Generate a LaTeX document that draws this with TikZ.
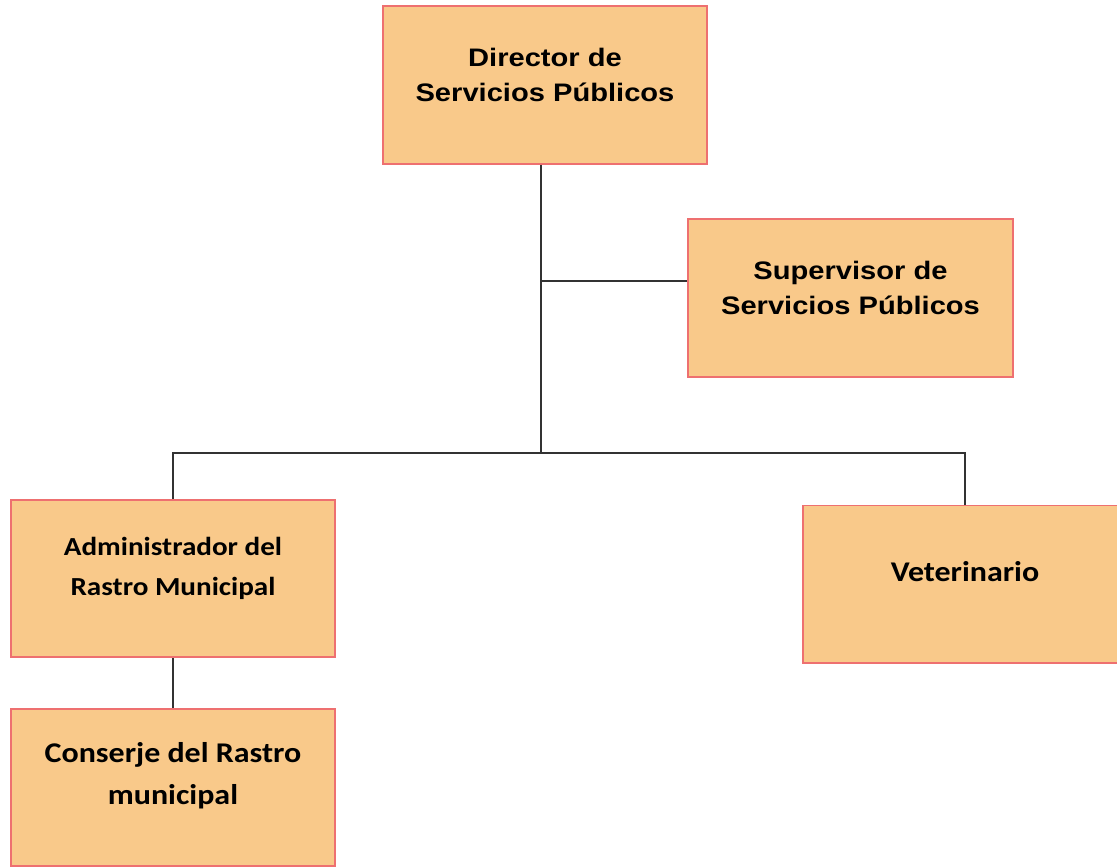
\documentclass[tikz,border=0pt]{standalone}
\usepackage{fontspec}
\usepackage{xcolor}
\usetikzlibrary{positioning}
\usetikzlibrary{calc}
\newfontfamily\arialfont[FakeStretch=1.15]{Liberation Sans}
\newfontfamily\calibrifont[FakeStretch=1.12]{Carlito}
\definecolor{boxfill}{RGB}{249,201,138}
\definecolor{boxline}{RGB}{238,112,112}
\definecolor{wire}{RGB}{50,50,50}

\begin{document}
\begin{tikzpicture}[x=0.025cm, y=-0.025cm, line width=1.1pt]
    \tikzstyle{post}=[draw=boxline, line width=1.4pt, fill=boxfill, rectangle, minimum width=8.1cm, minimum height=3.925cm, inner sep=0pt]
    \tikzstyle{arialtxt}=[align=center, font=\arialfont\bfseries\fontsize{18}{25.5}\selectfont]
    \tikzstyle{calitxt}=[align=center, font=\calibrifont\bfseries\fontsize{18.5}{28}\selectfont]
    \tikzstyle{calibig}=[align=center, font=\calibrifont\bfseries\fontsize{20.3}{30}\selectfont]
    \tikzstyle{conn}=[draw=wire, line width=1.1pt]

    \useasboundingbox (0,0) rectangle (1117,867);
    \clip (0,0) rectangle (1117,867);

    % boxes
    \node[post] (dir) at (545,85) {};
    \node[post] (sup) at (850.5,298) {};
    \node[post] (adm) at (173,578.5) {};
    \node[post] (vet) at (965,584) {};
    \node[post] (cons) at (173,787.5) {};

    % texts
    \node[arialtxt] (dirt) at ([yshift=0.25cm]dir) {Director de\\Servicios Públicos};
    \node[arialtxt] (supt) at ([yshift=0.25cm]sup) {Supervisor de\\Servicios Públicos};
    \node[calitxt] (admt) at ([yshift=0.25cm]adm) {Administrador del\\Rastro Municipal};
    \node[calibig] (vett) at ([yshift=0.3cm]vet) {Veterinario};
    \node[calibig] (const) at ([yshift=0.3cm]cons) {Conserje del Rastro\\municipal};

    % connectors
    \coordinate (hub) at (541,453);
    \coordinate (supj) at (541,281);
    \draw[conn] (dir.south -| hub) -- (hub);
    \draw[conn] (supj) -- (sup.west |- supj);
    \draw[conn] (adm.north) |- (hub) -| (vet.north);
    \draw[conn] (adm.south) -- (cons.north);
\end{tikzpicture}
\end{document}
